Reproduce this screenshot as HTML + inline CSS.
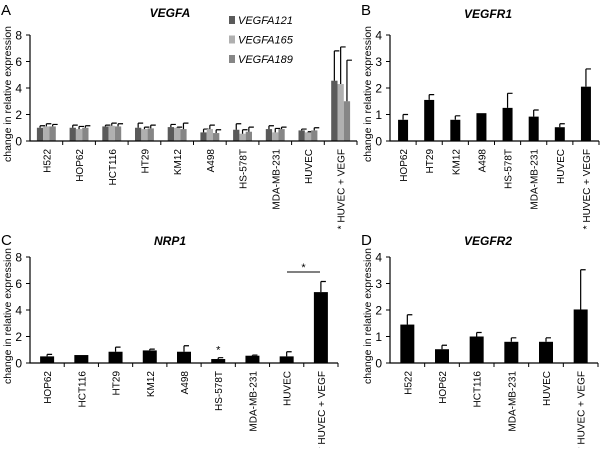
<!DOCTYPE html>
<html><head><meta charset="utf-8"><style>
body{margin:0;background:#fff;font-family:"Liberation Sans",sans-serif}
svg text{font-family:"Liberation Sans",sans-serif}
</style></head><body>
<svg id="s" width="600" height="448" viewBox="0 0 600 448" xmlns="http://www.w3.org/2000/svg"></svg>
<script>
const catsA=["H522","HOP62","HCT116","HT29","KM12","A498","HS-578T","MDA-MB-231","HUVEC","* HUVEC + VEGF"];
const a121=[1.0,1.0,1.1,1.0,1.05,0.65,0.85,0.9,0.8,4.55];
const a121e=[0.15,0.2,0.1,0.35,0.2,0.25,0.45,0.25,0.1,2.25];
const a165=[1.1,0.9,1.15,0.9,1.0,0.9,0.55,0.65,0.65,4.3];
const a165e=[0.2,0.2,0.2,0.15,0.05,0.3,0.3,0.3,0.05,2.8];
const a189=[1.1,1.0,1.1,0.95,0.9,0.6,0.7,0.9,0.8,3.0];
const a189e=[0.15,0.15,0.2,0.25,0.45,0.25,0.35,0.15,0.2,3.1];
const catsB=["HOP62","HT29","KM12","A498","HS-578T","MDA-MB-231","HUVEC","* HUVEC + VEGF"];
const valsB=[0.8,1.55,0.8,1.05,1.25,0.92,0.52,2.05];
const errB=[0.2,0.2,0.15,0,0.55,0.25,0.13,0.67];
const catsC=["HOP62","HCT116","HT29","KM12","A498","HS-578T","MDA-MB-231","HUVEC","* HUVEC + VEGF"];
const valsC=[0.5,0.6,0.85,0.95,0.85,0.3,0.55,0.5,5.35];
const errC=[0.15,0,0.35,0.1,0.45,0.1,0.05,0.35,0.8];
const catsD=["H522","HOP62","HCT116","MDA-MB-231","HUVEC","* HUVEC + VEGF"];
const valsD=[1.45,0.52,1.0,0.8,0.8,2.02];
const errD=[0.37,0.15,0.15,0.15,0.15,1.5];
const ticksA=[0,2,4,6,8], ticksB=[0,1,2,3,4];

const S=document.getElementById('s');const NS="http://www.w3.org/2000/svg";
function el(t,at,txt){const e=document.createElementNS(NS,t);for(const k in at)e.setAttribute(k,at[k]);if(txt!==undefined)e.textContent=txt;S.appendChild(e);return e;}

function panel(o){
  const y=v=>o.y0-(v/o.max)*(o.y0-o.yTop);
  const cw=(o.x1-o.x0)/o.cats.length;
  const x=i=>o.x0+cw*i+cw/2;
  let e=el('text',{x:o.lx,y:o.ly,'font-size':15},o.letter);
  
  
  e=el('text',{x:o.tx,y:o.ty,'font-size':12,'font-weight':'bold','font-style':'italic','text-anchor':'middle'},o.title);
  
  
  e=el('text',{x:0,y:0,'font-size':10.5,'text-anchor':'middle',transform:`translate(${o.x0-19},${(o.y0+o.yTop)/2+6}) rotate(-90)`},'change in relative expression');
  
  
  o.series.forEach((s,si)=>{
    const n=o.series.length;
    s.vals.forEach((v,i)=>{
      const bx=x(i)-o.bw*n/2+si*o.bw;
      let r=el('rect',{x:bx,y:y(v),width:o.bw,height:o.y0-y(v),fill:s.color});
      
      
      const err=s.err[i];
      if(err>0){
        const cx=bx+o.bw/2, ty=y(v+err);
        let l=el('path',{d:`M${cx} ${y(v)}V${ty}M${cx} ${ty}H${cx+o.cap}`,stroke:'#000','stroke-width':1.2,fill:'none'});
        
        
      }
    });
  });
  e=el('path',{d:`M${o.x0} ${o.yTop}V${o.y0}H${o.x1}`,stroke:'#000','stroke-width':1.2,fill:'none'});
  
  
  o.ticks.forEach(t=>{
    let l=el('line',{x1:o.x0-4,x2:o.x0,y1:y(t),y2:y(t),stroke:'#000'});
    
    
    let tx=el('text',{x:o.x0-8,y:y(t)+4.5,'font-size':12,'text-anchor':'end'},t);
    
    
  });
  for(let i=1;i<=o.cats.length;i++){
    let l=el('line',{x1:o.x0+cw*i,x2:o.x0+cw*i,y1:o.y0,y2:o.y0+4,stroke:'#000'});
    
    
  }
  o.cats.forEach((c,i)=>{
    let t=el('text',{x:0,y:0,'font-size':10,'text-anchor':'end',transform:`translate(${x(i)+4},${o.y0+8}) rotate(-90)`},c);
    
    
  });
  return {x,y};
}

panel({letter:'A',lx:1,ly:15,title:'VEGFA',tx:170,ty:17,x0:30,x1:357,y0:141,yTop:35,max:8,ticks:ticksA,cats:catsA,bw:6.3,cap:5,
 series:[{vals:a121,err:a121e,color:'#5a5a5a'},{vals:a165,err:a165e,color:'#b0b0b0'},{vals:a189,err:a189e,color:'#868686'}]});
[['VEGFA121','#5a5a5a'],['VEGFA165','#b0b0b0'],['VEGFA189','#868686']].forEach((L,i)=>{
  let r=el('rect',{x:229,y:16+i*19.5,width:6,height:8,fill:L[1]});
  
  
  let t=el('text',{x:238,y:24+i*19.5,'font-size':11,'font-style':'italic'},L[0]);
  
  
});
panel({letter:'B',lx:361,ly:15,title:'VEGFR1',tx:488,ty:18,x0:390,x1:599,y0:141,yTop:35,max:4,ticks:ticksB,cats:catsB,bw:10,cap:5,
 series:[{vals:valsB,err:errB,color:'#000'}]});
const C=panel({letter:'C',lx:1,ly:245,title:'NRP1',tx:170,ty:245,x0:30,x1:338,y0:363,yTop:257,max:8,ticks:ticksA,cats:catsC,bw:14,cap:5,
 series:[{vals:valsC,err:errC,color:'#000'}]});
let e=el('line',{x1:287,x2:320,y1:272,y2:272,stroke:'#000'});


e=el('text',{x:303.5,y:271,'font-size':11,'text-anchor':'middle'},'*');


e=el('text',{x:C.x(5),y:C.y(valsC[5]+errC[5])-4,'font-size':11,'text-anchor':'middle'},'*');


panel({letter:'D',lx:361,ly:245,title:'VEGFR2',tx:488,ty:245,x0:390,x1:598,y0:363,yTop:257,max:4,ticks:ticksB,cats:catsD,bw:14,cap:5,
 series:[{vals:valsD,err:errD,color:'#000'}]});
</script>
</body></html>
